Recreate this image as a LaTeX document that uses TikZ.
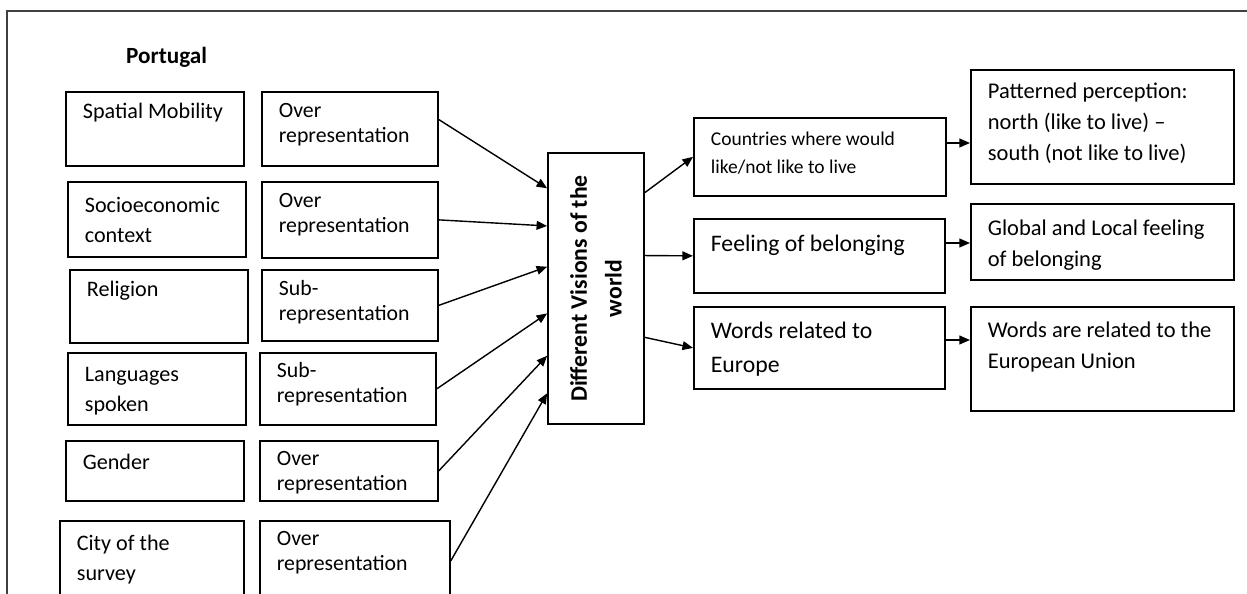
\documentclass[tikz,border=0pt]{standalone}
\usepackage{fontspec}
\setmainfont{Carlito}
\usepackage{graphicx}
\usetikzlibrary{arrows.meta}
\newdimen\px
\px=0.02cm
\newcommand{\inbox}[4]{\parbox[t][#2\px][t]{#1\px}{\vspace*{\dimexpr#3\px-\ht\strutbox\relax}\raggedright\leftskip=17\px\strut#4}}

\begin{document}
\begin{tikzpicture}[x=0.02cm, y=-0.02cm, >={Triangle[length=6pt,width=5pt]},
    box/.style = {draw, line width=1pt, anchor=north west, inner sep=0pt, font=\fontsize{12.6}{17}\selectfont},
    rep/.style = {box, font=\fontsize{12.4}{14.2}\selectfont},
    big/.style = {box, font=\fontsize{13.5}{19.3}\selectfont},
    result/.style = {box, font=\fontsize{12.8}{17.5}\selectfont},
    link/.style = {->, line width=0.8pt}]
    \useasboundingbox (0,0) rectangle (1247,594);
    \clip (0,0) rectangle (1247,594);
    \draw[line width=1.2pt, black!75] (7,620) -- (7,11) -- (1260,11);

    \node[font=\bfseries\fontsize{13.2}{16}\selectfont, anchor=base west] (country) at (120,64) {Portugal};

    \node[box] (spatial) at (65,91) {\inbox{178}{74}{27}{Spatial Mobility}};
    \node[box] (socio) at (67,181) {\inbox{178}{75}{31}{Socioeconomic\\context}};
    \node[box] (relig) at (69,269) {\inbox{178}{73}{27}{Religion}};
    \node[box] (lang) at (67,352) {\inbox{178}{72}{29}{Languages\\spoken}};
    \node[box] (gender) at (65,440) {\inbox{178}{60}{29}{Gender}};
    \node[box] (city) at (59,520) {\inbox{184}{80}{30}{City of the\\survey}};

    \node[rep] (over1) at (261,91) {\inbox{176}{74}{26}{Over\\representation}};
    \node[rep] (over2) at (261,181) {\inbox{176}{76}{26}{Over\\representation}};
    \node[rep] (sub1) at (261,269) {\inbox{176}{71}{26}{Sub-\\representation}};
    \node[rep] (sub2) at (259,352) {\inbox{176}{72}{25}{Sub-\\representation}};
    \node[rep] (over3) at (259,440) {\inbox{178}{60}{25}{Over\\representation}};
    \node[rep] (over4) at (259,520) {\inbox{190}{80}{25}{Over\\representation}};

    \node[draw, line width=1pt, minimum width=1.92cm, minimum height=5.42cm, inner sep=0pt,
          font=\bfseries\fontsize{13.5}{19.9}\selectfont] (visions) at (596,288.5)
          {\rotatebox{90}{\parbox{250\px}{\centering Different Visions of the\\world}}};

    \node[box, font=\fontsize{11.1}{15.9}\selectfont] (live) at (693,117) {\inbox{252}{78}{28}{Countries where would\\like/not like to live}};
    \node[big] (feeling) at (693,218) {\inbox{251}{74}{33}{Feeling of belonging}};
    \node[big] (words) at (693,306) {\inbox{251}{82}{32}{Words related to\\Europe}};

    \node[result] (pattern) at (970,69) {\inbox{263}{114}{29}{Patterned perception:\\north (like to live) --\\south (not like to live)}};
    \node[result] (global) at (970,203) {\inbox{263}{76}{32}{Global and Local feeling\\of belonging}};
    \node[result] (union) at (970,306) {\inbox{263}{104}{31}{Words are related to the\\European Union}};

    \draw[link] (over1.6.5) -- (visions.116.4);
    \draw[link] (over2.east) -- (visions.128.4);
    \draw[link] (sub1.east) -- (visions.156.9);
    \draw[link] (sub2.east) -- (visions.207);
    \draw[link] (over3.east) -- (visions.234.2);
    \draw[link] (over4.east) -- (visions.245.3);
    \draw[link] (visions.63.3) -- (live.west);
    \draw[link] (visions.34.1) -- (feeling.west);
    \draw[link] (visions.-45.9) -- (words.west);
    \draw[link] (live.east |- 0,143) -- (pattern.west |- 0,143);
    \draw[link] (feeling.east |- 0,243) -- (global.west |- 0,243);
    \draw[link] (words.east |- 0,340) -- (union.west |- 0,340);
\end{tikzpicture}
\end{document}
